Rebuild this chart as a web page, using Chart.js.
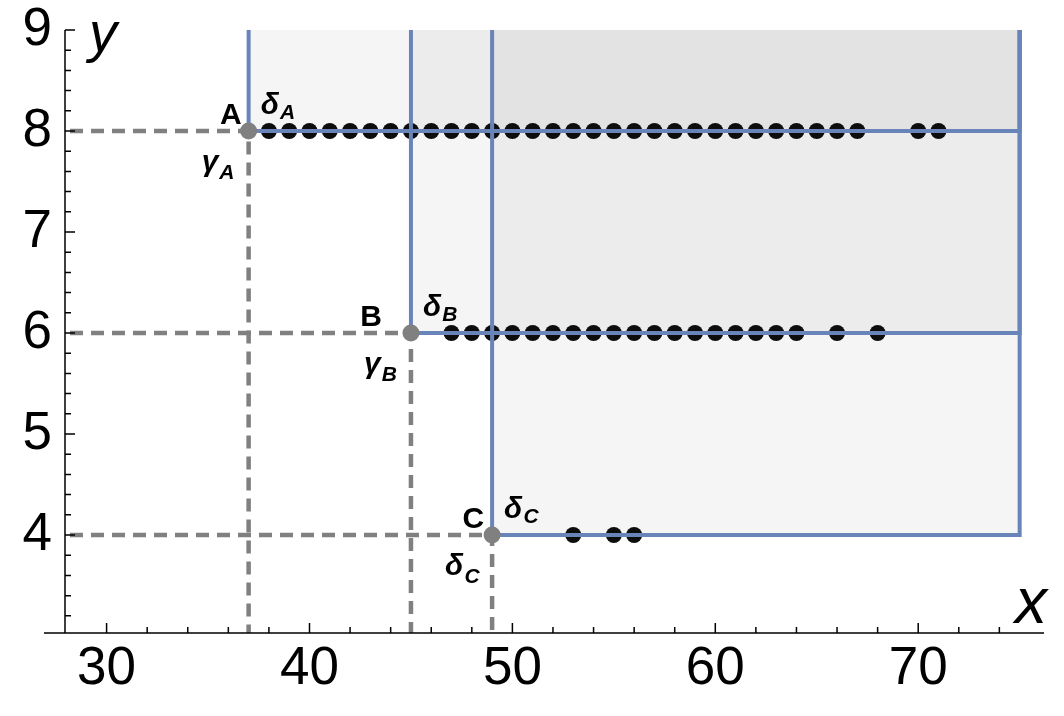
<!DOCTYPE html>
<html>
<head>
<meta charset="utf-8">
<script src="https://cdn.jsdelivr.net/npm/chart.js@4"></script>
<style>
  body { margin: 0; background: #fff; }
</style>
</head>
<body>
<canvas id="chart" width="1064" height="716"></canvas>
<script>
// corner points of the three regions
const pointNames = ['A', 'B', 'C'];
const pointX = [37, 45, 49];
const pointY = [8, 6, 4];
const upperGreek = ['δ', 'δ', 'δ'];
const lowerGreek = ['γ', 'γ', 'δ'];
const frameRight = 75;
const frameTop = 9;

// black dots on each row
const dotsA = [38, 39, 40, 41, 42, 43, 44, 45, 46, 47, 48, 49, 50, 51, 52, 53, 54, 55, 56, 57, 58, 59, 60, 61, 62, 63, 64, 65, 66, 67, 70, 71];
const dotsB = [47, 48, 49, 50, 51, 52, 53, 54, 55, 56, 57, 58, 59, 60, 61, 62, 63, 64, 66, 68];
const dotsC = [53, 55, 56];

const xTickLabels = [30, 40, 50, 60, 70];
const yTickLabels = [4, 5, 6, 7, 8, 9];
const xMin = 27.95, xMax = 76.2;
const yMin = 3.03, yMax = 9;

const FONT = '"Liberation Sans", Arial, Helvetica, sans-serif';
const BLUE = '#6884b8';
const GREY = '#808080';

const nameDx = [-7, -29, -8];

const datasets = [];

// gray corner points (top)
datasets.push({
  data: pointX.map((x, i) => ({ x, y: pointY[i] })),
  showLine: false,
  pointRadius: 8.5,
  pointBackgroundColor: GREY,
  pointBorderWidth: 0,
  order: 0,
});

// blue region outlines with fill
pointX.forEach((x, i) => {
  datasets.push({
    data: [
      { x, y: frameTop },
      { x, y: pointY[i] },
      { x: frameRight, y: pointY[i] },
      { x: frameRight, y: frameTop },
    ],
    borderColor: BLUE,
    borderWidth: 4,
    borderJoinStyle: 'miter',
    backgroundColor: 'rgba(0,0,0,0.04)',
    fill: 'end',
    pointRadius: 0,
    tension: 0,
    order: 1,
  });
});

// black dots
[dotsA, dotsB, dotsC].forEach((row, i) => {
  datasets.push({
    data: row.map(x => ({ x, y: pointY[i] })),
    showLine: false,
    pointRadius: 8,
    pointBackgroundColor: '#0d0d0d',
    pointBorderWidth: 0,
    order: 2,
  });
});

// dashed guides to the axes
pointX.forEach((x, i) => {
  datasets.push({
    data: [
      { x: xMin, y: pointY[i] },
      { x, y: pointY[i] },
      { x, y: yMin },
    ],
    borderColor: GREY,
    borderWidth: 4.5,
    borderDash: [13, 8],
    borderDashOffset: -5,
    pointRadius: 0,
    tension: 0,
    fill: false,
    order: 3,
  });
});

function drawSub(ctx, main, sub, x, yb, subDy) {
  ctx.font = 'italic bold 30px ' + FONT;
  ctx.fillText(main, x, yb);
  const w = ctx.measureText(main).width;
  ctx.font = 'italic bold 21px ' + FONT;
  ctx.fillText(sub, x + w + 1, yb + subDy);
}

const axesPlugin = {
  id: 'axes',
  afterDatasetsDraw(chart) {
    const { ctx, chartArea, scales: { x, y } } = chart;
    ctx.save();
    ctx.strokeStyle = '#000';
    ctx.lineWidth = 1.5;
    // axis lines
    ctx.beginPath();
    ctx.moveTo(chartArea.left - 21, chartArea.bottom);
    ctx.lineTo(chartArea.right, chartArea.bottom);
    ctx.moveTo(chartArea.left, chartArea.top);
    ctx.lineTo(chartArea.left, chartArea.bottom);
    ctx.stroke();

    // x ticks
    ctx.beginPath();
    for (let v = 30; v <= 74; v += 2) {
      const px = x.getPixelForValue(v);
      const len = xTickLabels.includes(v) ? 10 : 6;
      ctx.moveTo(px, chartArea.bottom);
      ctx.lineTo(px, chartArea.bottom - len);
    }
    // y ticks
    for (let k = 16; k <= 45; k++) {
      const v = k / 5;
      const py = y.getPixelForValue(v);
      const len = k % 5 === 0 ? 10 : 6;
      ctx.moveTo(chartArea.left, py);
      ctx.lineTo(chartArea.left + len, py);
    }
    ctx.stroke();

    // axis titles
    ctx.fillStyle = '#000';
    ctx.textAlign = 'left';
    ctx.textBaseline = 'alphabetic';
    ctx.font = 'italic 56px ' + FONT;
    ctx.fillText('y', chartArea.left + 24, chartArea.top + 21);
    ctx.textAlign = 'right';
    ctx.font = 'italic 64px ' + FONT;
    ctx.fillText('x', chartArea.right + 3, chartArea.bottom - 10);

    // point labels
    pointNames.forEach((name, i) => {
      const px = x.getPixelForValue(pointX[i]);
      const py = y.getPixelForValue(pointY[i]);
      ctx.textAlign = 'right';
      ctx.font = 'bold 30px ' + FONT;
      ctx.fillText(name, px + nameDx[i], py - 7);
      ctx.textAlign = 'left';
      drawSub(ctx, upperGreek[i], name, px + 12, py - 17, 5);
      drawSub(ctx, lowerGreek[i], name, px - 47, py + 40, 8);
    });
    ctx.restore();
  }
};

const ctx = document.getElementById('chart').getContext('2d');
const chart = new Chart(ctx, {
  type: 'line',
  data: { datasets },
  options: {
    responsive: false,
    animation: false,
    layout: { padding: { top: 30, right: 20, left: 0, bottom: 0 } },
    plugins: {
      legend: { display: false },
      tooltip: { enabled: false },
      filler: { drawTime: 'beforeDatasetsDraw' },
    },
    scales: {
      x: {
        type: 'linear',
        min: xMin,
        max: xMax,
        border: { display: false },
        grid: { display: false, drawTicks: false },
        afterBuildTicks: s => { s.ticks = xTickLabels.map(v => ({ value: v })); },
        afterFit: s => { s.height = 83; s.paddingLeft = 0; s.paddingRight = 0; },
        ticks: {
          autoSkip: false,
          maxRotation: 0,
          padding: 5,
          color: '#000',
          font: { family: FONT, size: 53 },
        },
      },
      y: {
        type: 'linear',
        min: yMin,
        max: yMax,
        border: { display: false },
        grid: { display: false, drawTicks: false },
        afterBuildTicks: s => { s.ticks = yTickLabels.map(v => ({ value: v })); },
        afterFit: s => { s.width = 65; s.paddingTop = 0; s.paddingBottom = 0; },
        ticks: {
          autoSkip: false,
          padding: 13,
          color: '#000',
          font: { family: FONT, size: 53 },
        },
      },
    },
  },
  plugins: [axesPlugin],
});
</script>
</body>
</html>
